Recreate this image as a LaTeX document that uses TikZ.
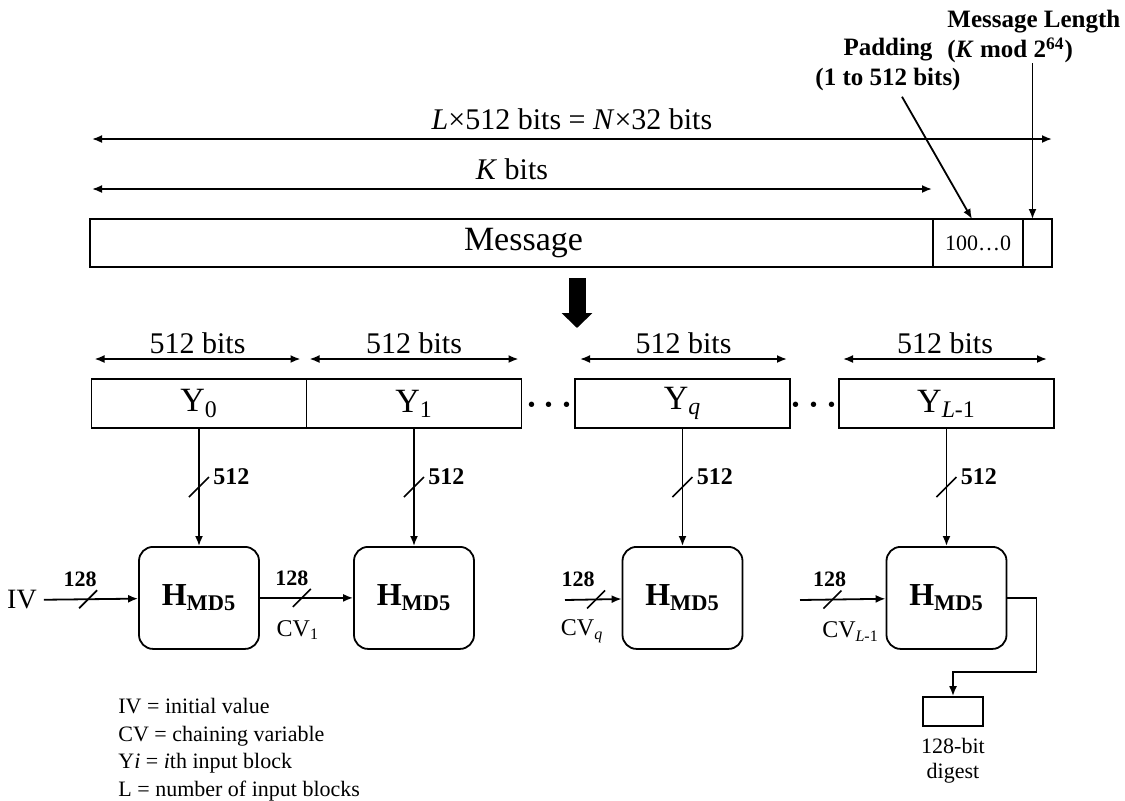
\documentclass[tikz,border=0pt]{standalone}
\usepackage{fontspec}
\setmainfont{Liberation Serif}
\usetikzlibrary{arrows.meta,positioning}
\newcommand{\setsz}[2]{\fontsize{#1}{#2}\selectfont}

\begin{document}
\begin{tikzpicture}[
  x=0.5pt, y=-0.5pt,
  msgbox/.style={rectangle, draw, line width=0.9pt, minimum height=24pt,
                 inner sep=0pt, outer sep=0pt},
  blk/.style={rectangle, draw, line width=0.9pt, minimum height=24.5pt,
              minimum width=107.5pt, inner sep=0pt, outer sep=0pt, font=\setsz{17}{20}},
  hbox/.style={rectangle, rounded corners=7pt, draw, line width=0.9pt,
               minimum width=60pt, minimum height=51pt, font=\bfseries\setsz{16}{19}},
  arr/.style={line width=0.9pt, -{Latex[length=5pt,width=4pt]}},
  dimarr/.style={line width=0.9pt, {Latex[length=5pt,width=4pt]}-{Latex[length=5pt,width=4pt]}},
  bigarr/.style={line width=8.5pt, -{Triangle[length=7.5pt,width=15pt]}},
  tick/.style={line width=0.8pt},
  num/.style={font=\bfseries\setsz{11}{13}, inner sep=0pt},
  bignum/.style={font=\bfseries\setsz{12}{14}, inner sep=0pt},
  cvlbl/.style={font=\setsz{12}{14}, inner sep=0pt},
  dimlbl/.style={font=\setsz{15}{18}, inner sep=1pt},
  toplbl/.style={font=\bfseries\setsz{12.5}{15}, inner sep=0pt}]
  \useasboundingbox (0,0) rectangle (1125,800);

  \node[msgbox, minimum width=421.5pt, font=\setsz{17}{20}] (msg) at (511.5,243) {\hspace*{12pt}Message};
  \node[msgbox, minimum width=45pt, font=\setsz{11}{13}, right=0pt of msg] (pad) {100…0};
  \node[msgbox, minimum width=14.5pt, right=0pt of pad] (len) {};
  \node[toplbl, align=center] (padlbl) at (888,64) {Padding\\(1 to 512 bits)};
  \node[toplbl, align=left, anchor=north west] (lenlbl) at (947,10) {Message Length\\(\textit{K} mod 2\textsuperscript{64})};
  \coordinate (la) at (92,139);
  \coordinate (lb) at (1052,139);
  \coordinate (ka) at (92,189);
  \coordinate (kb) at (932,189);
  \coordinate (split) at (577,328);

  \node[blk] (y0) at (199,403.5) {Y\textsubscript{0}};
  \node[blk, right=0pt of y0] (y1) {Y\textsubscript{1}};
  \node[blk] (yq) at (682.5,403.5) {Y\textsubscript{\textit{q}}};
  \node[blk] (yl) at (946.5,403.5) {Y\textsubscript{\textit{L}-1}};
  \node[font=\setsz{16}{18}\boldmath] (dots1) at (549.5,405) {$\cdots$};
  \node[font=\setsz{16}{18}\boldmath] (dots2) at (814,405) {$\cdots$};

  \node[hbox, below=59pt of y0] (h0) {H\textsubscript{MD5}};
  \node[hbox, below=59pt of y1] (h1) {H\textsubscript{MD5}};
  \node[hbox, below=59pt of yq] (hq) {H\textsubscript{MD5}};
  \node[hbox, below=59pt of yl] (hl) {H\textsubscript{MD5}};
  \node[font=\setsz{14}{16}] (iv) at (22,600) {IV};
  \coordinate (qin) at (565,600);
  \coordinate (lin) at (800,600);
  \node[draw, line width=0.9pt, minimum width=30pt, minimum height=14.5pt, inner sep=0pt] (dig) at (953,711.5) {};
  \node[font=\setsz{11}{12.5}, align=center, below=2pt of dig] (diglbl) {128-bit\\digest};
  \node[font=\setsz{11}{13.8}, align=left, anchor=north west, inner sep=0pt] (legend) at (118,698)
    {IV = initial value\\CV = chaining variable\\Y\textit{i} = \textit{i}th input block\\L = number of input blocks};

  \draw[dimarr] (la) -- node[dimlbl, above=3pt] {\textit{L}×512 bits = \textit{N}×32 bits} (lb);
  \draw[dimarr] (ka) -- node[dimlbl, above=3pt] {\textit{K} bits} (kb);
  \draw[arr] ([xshift=7pt,yshift=-3pt]padlbl.south) -- ([xshift=-3pt]pad.north);
  \draw[arr] ([xshift=-2.5pt]len.north |- lenlbl.south) -- ([xshift=-2.5pt]len.north);
  \draw[bigarr] ([yshift=-5.5pt]msg.south -| split) -- (split);

  \draw[dimarr] ([xshift=1.5pt,yshift=10pt]y0.north west) -- node[dimlbl, above=1pt] {512 bits} ([xshift=-3pt,yshift=10pt]y0.north east);
  \draw[dimarr] ([xshift=1.5pt,yshift=10pt]y1.north west) -- node[dimlbl, above=1pt] {512 bits} ([xshift=-1.5pt,yshift=10pt]y1.north east);
  \draw[dimarr] ([xshift=2.5pt,yshift=10pt]yq.north west) -- node[dimlbl, above=1pt] {512 bits} ([xshift=-1.5pt,yshift=10pt]yq.north east);
  \draw[dimarr] ([xshift=2pt,yshift=10pt]yl.north west) -- node[dimlbl, above=1pt] {512 bits} ([xshift=-3.5pt,yshift=10pt]yl.north east);

  \draw[arr] (y0) -- (h0) coordinate[pos=0.5] (s0);
  \draw[arr] (y1) -- (h1) coordinate[pos=0.5] (s1);
  \draw[arr] (yq) -- (hq) coordinate[pos=0.5] (sq);
  \draw[arr] (yl) -- (hl) coordinate[pos=0.5] (sl);
  \draw[tick] ([xshift=-5pt,yshift=-5pt]s0) -- ([xshift=5pt,yshift=5pt]s0);
  \draw[tick] ([xshift=-5pt,yshift=-5pt]s1) -- ([xshift=5pt,yshift=5pt]s1);
  \draw[tick] ([xshift=-5pt,yshift=-5pt]sq) -- ([xshift=5pt,yshift=5pt]sq);
  \draw[tick] ([xshift=-5pt,yshift=-5pt]sl) -- ([xshift=5pt,yshift=5pt]sl);
  \node[bignum, anchor=west] at ([xshift=7pt,yshift=5pt]s0) {512};
  \node[bignum, anchor=west] at ([xshift=7pt,yshift=5pt]s1) {512};
  \node[bignum, anchor=west] at ([xshift=7pt,yshift=5pt]sq) {512};
  \node[bignum, anchor=west] at ([xshift=7pt,yshift=5pt]sl) {512};

  \draw[arr] (iv) -- (h0) coordinate[pos=0.47] (c0);
  \draw[arr] (h0) -- (h1) coordinate[pos=0.45] (c1);
  \draw[arr] (qin) -- (hq) coordinate[pos=0.55] (cq);
  \draw[arr] (lin) -- (hl) coordinate[pos=0.38] (cl);
  \draw[tick] ([xshift=-4.5pt,yshift=-4.5pt]c0) -- ([xshift=4.5pt,yshift=4.5pt]c0);
  \draw[tick] ([xshift=-4.5pt,yshift=-4.5pt]c1) -- ([xshift=4.5pt,yshift=4.5pt]c1);
  \draw[tick] ([xshift=-4.5pt,yshift=-4.5pt]cq) -- ([xshift=4.5pt,yshift=4.5pt]cq);
  \draw[tick] ([xshift=-4.5pt,yshift=-4.5pt]cl) -- ([xshift=4.5pt,yshift=4.5pt]cl);
  \node[num] at ([xshift=-4pt,yshift=10pt]c0) {128};
  \node[num] at ([xshift=-5pt,yshift=10pt]c1) {128};
  \node[num] at ([xshift=-9pt,yshift=10pt]cq) {128};
  \node[num] at ([xshift=-1.5pt,yshift=10pt]cl) {128};
  \node[cvlbl] at ([xshift=-2pt,yshift=-16pt]c1) {CV\textsubscript{1}};
  \node[cvlbl] at ([xshift=-7pt,yshift=-16pt]cq) {CV\textsubscript{\textit{q}}};
  \node[cvlbl] at ([xshift=9pt,yshift=-16pt]cl) {CV\textsubscript{\textit{L}-1}};
  \draw[arr] (hl.east) -- ++(29,0) |- ([yshift=12pt]dig.north) -- (dig.north);
\end{tikzpicture}
\end{document}
